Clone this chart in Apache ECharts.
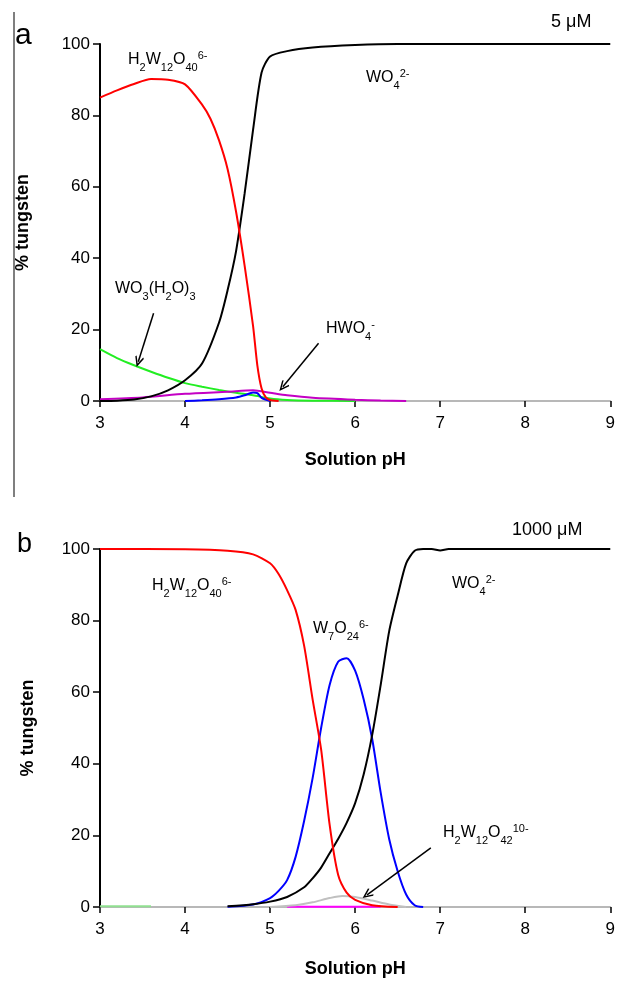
<!DOCTYPE html>
<html>
<head>
<meta charset="utf-8">
<script src="https://cdn.jsdelivr.net/npm/echarts@6/dist/echarts.min.js"></script>
<style>
  html, body { margin: 0; padding: 0; background: #fff; }
  #chart { width: 618px; height: 981px; }
</style>
</head>
<body>
<div id="chart"></div>
<script>
// panel a, 5 uM
var phA_poly = [3, 3.2, 3.4, 3.6, 3.8, 4.0, 4.2, 4.3, 4.4, 4.5, 4.6, 4.7, 4.8, 4.85, 4.9, 4.95, 5.0, 5.1]
var polyA = [85, 87, 88.8, 90.2, 90, 88.7, 83, 79, 73, 65, 53, 38, 21, 10, 3.5, 1, 0.3, 0]
var phA_wo4 = [3, 3.2, 3.4, 3.6, 3.8, 4.0, 4.2, 4.4, 4.5, 4.6, 4.7, 4.8, 4.9, 5.0, 5.2, 5.5, 6, 6.5, 7, 8, 9]
var wo4A = [0, 0.1, 0.4, 1.3, 3, 5.8, 10.5, 22, 31, 42, 58, 76, 92, 96.5, 98, 99, 99.7, 100, 100, 100, 100]
var phA_wo3 = [3, 3.2, 3.4, 3.6, 3.8, 4.0, 4.2, 4.4, 4.6, 4.8, 5.0, 5.2, 5.5, 6.0]
var wo3A = [14.5, 12, 10, 8.2, 6.5, 5, 4, 3.1, 2.3, 1.6, 0.7, 0.3, 0.1, 0]
var phA_hwo4 = [3, 3.5, 4.0, 4.5, 4.8, 5.0, 5.2, 5.5, 6.0, 6.3, 6.6]
var hwo4A = [0.5, 1, 2, 2.6, 3, 2.3, 1.6, 0.9, 0.35, 0.15, 0]
var phA_w7 = [4.0, 4.2, 4.4, 4.6, 4.7, 4.8, 4.85, 4.9, 5.0]
var w7A = [0, 0.2, 0.5, 1, 1.6, 2.4, 2.2, 0.9, 0]

// panel b, 1000 uM
var phB_poly = [3, 4, 4.5, 4.8, 5.0, 5.1, 5.2, 5.3, 5.4, 5.5, 5.6, 5.7, 5.8, 5.9, 6.0, 6.2, 6.5]
var polyB = [100, 99.9, 99.5, 98.5, 96, 93, 88.5, 83, 73, 58, 44, 23, 9, 4, 2, 0.5, 0]
var phB_w7 = [4.5, 4.8, 5.0, 5.1, 5.2, 5.3, 5.4, 5.5, 5.6, 5.7, 5.8, 5.9, 6.0, 6.1, 6.2, 6.3, 6.4, 6.5, 6.6, 6.7, 6.8]
var w7B = [0.1, 0.7, 2.5, 4.5, 7.5, 14, 24, 36, 50, 62, 68.5, 69.5, 66, 58, 47, 32, 19, 10, 3.5, 0.5, 0]
var phB_wo4 = [4.5, 4.8, 5.0, 5.2, 5.4, 5.5, 5.6, 5.7, 5.8, 5.9, 6.0, 6.1, 6.2, 6.3, 6.4, 6.5, 6.6, 6.7, 6.8, 6.9, 7.0, 7.1, 8, 9]
var wo4B = [0.2, 0.8, 1.5, 2.8, 5.5, 8, 11, 15, 19, 23.5, 29, 37, 48, 62, 77, 87, 96, 99.5, 100, 100, 99.6, 100, 100, 100]
var phB_h2w12o42 = [5.0, 5.3, 5.5, 5.7, 5.85, 6.0, 6.2, 6.4, 6.6]
var h2w12o42B = [0, 0.5, 1.3, 2.5, 3.1, 2.8, 1.8, 0.7, 0]
var phB_wo3 = [3, 3.6]
var wo3B = [0.2, 0.2]
var phB_hwo4 = [5.2, 6.3]
var hwo4B = [0.1, 0.1]

// arrow annotations [from, to] in pH / % coordinates
var arrowWo3A = [[3.63, 24.6], [3.45, 11]]
var arrowHwo4A = [[5.57, 16.2], [5.15, 4]]
var arrowH2w12o42B = [[6.89, 16.5], [6.14, 3.4]]

var xTicks = [3, 9, 1]
var yTicks = [0, 100, 20]

function pairs (xs, ys) {
  var out = []
  for (var i = 0; i < xs.length; i++) out.push([xs[i], ys[i]])
  return out
}

var font = 'Liberation Sans, Arial, sans-serif'
var chevron = 'path://M5,0 L10,9 L8.8,10 L5,3.2 L1.2,10 L0,9 Z'

function arrowLine (a) {
  return {
    silent: true,
    animation: false,
    symbol: ['none', chevron],
    symbolSize: [9, 11],
    label: { show: false },
    lineStyle: { color: '#000', width: 1.5, type: 'solid' },
    data: [[{ coord: a[0] }, { coord: a[1] }]]
  }
}

function line (name, xi, xs, ys, color, width, extra) {
  var s = {
    name: name,
    type: 'line',
    xAxisIndex: xi,
    yAxisIndex: xi,
    data: pairs(xs, ys),
    showSymbol: false,
    smooth: 0.25,
    lineStyle: { color: color, width: width || 2 },
    itemStyle: { color: color },
    z: 3
  }
  if (extra) s.markLine = extra
  return s
}

function xAxis (gi, gap) {
  return {
    type: 'value', gridIndex: gi, min: xTicks[0], max: xTicks[1], interval: xTicks[2],
    name: 'Solution pH', nameLocation: 'middle', nameGap: gap,
    nameTextStyle: { fontSize: 18, fontWeight: 'bold', color: '#000', fontFamily: font },
    axisLine: { lineStyle: { color: '#b8b8b8', width: 2 } },
    axisTick: { inside: false, length: 6, lineStyle: { color: '#000', width: 1.5 } },
    axisLabel: { fontSize: 17, color: '#000', margin: 14, fontFamily: font },
    splitLine: { show: false }
  }
}

function yAxis (gi, gap) {
  return {
    type: 'value', gridIndex: gi, min: yTicks[0], max: yTicks[1], interval: yTicks[2],
    name: '% tungsten', nameLocation: 'middle', nameGap: gap,
    nameTextStyle: { fontSize: 18, fontWeight: 'bold', color: '#000', fontFamily: font },
    axisLine: { show: true, lineStyle: { color: '#000', width: 2 } },
    axisTick: { show: true, inside: false, length: 7, lineStyle: { color: '#000', width: 1.5 } },
    axisLabel: { fontSize: 17, color: '#000', margin: 10, fontFamily: font },
    splitLine: { show: false }
  }
}

var rich = {
  n: { fontSize: 16, lineHeight: 26, color: '#000', fontFamily: font },
  sb: { fontSize: 11, verticalAlign: 'bottom', color: '#000', fontFamily: font },
  sp: { fontSize: 11, verticalAlign: 'top', padding: [3, 0, 0, 0], color: '#000', fontFamily: font }
}

function label (x, y, text) {
  return {
    type: 'text', x: x, y: y - 2, z: 10,
    style: { text: text, rich: rich, align: 'left', verticalAlign: 'top', font: '16px ' + font }
  }
}

function plain (x, y, text, size) {
  return {
    type: 'text', x: x, y: y, z: 10,
    style: { text: text, fill: '#000', fontSize: size, fontFamily: font, align: 'left', verticalAlign: 'middle' }
  }
}

var chart = echarts.init(document.getElementById('chart'))
var option = {
  animation: false,
  backgroundColor: '#fff',
  grid: [
    { left: 100, top: 44, width: 512, height: 357 },
    { left: 100, top: 549, width: 512, height: 358 }
  ],
  xAxis: [xAxis(0, 50), xAxis(1, 53)],
  yAxis: [yAxis(0, 68), yAxis(1, 63)],
  series: [
    line('WO3(H2O)3', 0, phA_wo3, wo3A, '#22ee22', 2, arrowLine(arrowWo3A)),
    line('HWO4-', 0, phA_hwo4, hwo4A, '#c400c4', 2, arrowLine(arrowHwo4A)),
    line('W7O24', 0, phA_w7, w7A, '#0000ff', 2),
    line('WO4', 0, phA_wo4, wo4A, '#000000', 2),
    line('H2W12O40', 0, phA_poly, polyA, '#ff0000', 2),

    line('WO3(H2O)3', 1, phB_wo3, wo3B, '#90e090', 2),
    line('HWO4-', 1, phB_hwo4, hwo4B, '#ff00ff', 2),
    line('H2W12O42', 1, phB_h2w12o42, h2w12o42B, '#c0c0c0', 2, arrowLine(arrowH2w12o42B)),
    line('W7O24', 1, phB_w7, w7B, '#0000ff', 2),
    line('WO4', 1, phB_wo4, wo4B, '#000000', 2),
    line('H2W12O40', 1, phB_poly, polyB, '#ff0000', 2)
  ],
  graphic: [
    { type: 'line', shape: { x1: 14, y1: 12, x2: 14, y2: 497 }, style: { stroke: '#555', lineWidth: 1.5 } },
    plain(15, 36, 'a', 30),
    plain(17, 545, 'b', 27),
    plain(551, 22, '5 μM', 18),
    plain(512, 530, '1000 μM', 18),
    label(128, 49, '{n|H}{sb|2}{n|W}{sb|12}{n|O}{sb|40}{sp|6-}'),
    label(366, 67, '{n|WO}{sb|4}{sp|2-}'),
    label(115, 278, '{n|WO}{sb|3}{n|(H}{sb|2}{n|O)}{sb|3}'),
    label(326, 318, '{n|HWO}{sb|4}{sp|-}'),
    label(152, 575, '{n|H}{sb|2}{n|W}{sb|12}{n|O}{sb|40}{sp|6-}'),
    label(313, 618, '{n|W}{sb|7}{n|O}{sb|24}{sp|6-}'),
    label(452, 573, '{n|WO}{sb|4}{sp|2-}'),
    label(443, 822, '{n|H}{sb|2}{n|W}{sb|12}{n|O}{sb|42}{sp|10-}')
  ]
}
chart.setOption(option)
</script>
</body>
</html>
